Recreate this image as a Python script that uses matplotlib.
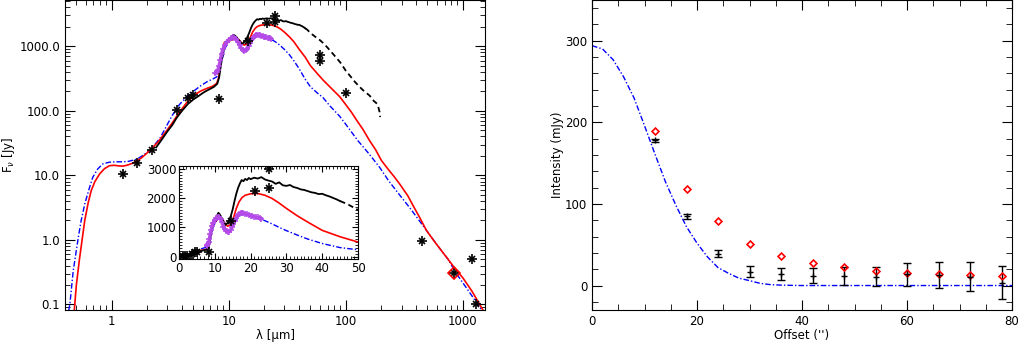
import matplotlib
matplotlib.use("Agg")
import matplotlib.pyplot as plt
from matplotlib.ticker import MultipleLocator, FuncFormatter, LogLocator, NullFormatter

plt.rcParams['font.family'] = ['DejaVu Sans']
plt.rcParams['font.size'] = 8.5

# ---- SED photometry (micron, Jy)
phot_wave = [1.25, 1.65, 2.2, 3.6, 4.5, 5.0, 8.3, 14.5, 21.3, 25.0, 25.0, 60.0, 60.0, 100.0, 450.0, 850.0, 1200.0, 1300.0]
phot_flux = [10.5, 15.8, 24.5, 104, 155, 176, 150, 1220, 2250, 2990, 2340, 740, 580, 190, 0.97, 0.31, 0.50, 0.10]

# ---- spectrum, short part (solid) and long part (broken)
spec_wave = [2.4, 2.6, 2.8, 3.0, 3.3, 3.6, 4.0, 4.5, 5.0, 5.5, 6.0, 6.5, 7.0, 7.5, 8.0, 8.3, 8.6, 9.0, 9.3, 9.7,
             10.2, 10.7, 11.0, 11.3, 11.7, 12.0, 12.5, 13.0, 13.5, 14.0, 14.5, 15.0, 15.5, 16.0, 16.5, 17.0,
             17.5, 18.0, 18.5, 19.0, 19.5, 20.0, 21.0, 22.0, 23.0, 24.0, 25.0, 26.0, 27.0, 28.0, 29.0, 30.0,
             31.0, 32.0, 33.0, 34.0, 35.0, 36.0, 37.0, 38.0, 39.0, 40.0, 41.0, 42.0, 43.0, 44.0, 45.0]
spec_flux = [27, 33, 40, 48, 60, 78, 100, 128, 150, 168, 188, 205, 220, 235, 262, 330, 520, 820, 1000, 1150,
             1300, 1420, 1500, 1460, 1380, 1290, 1190, 1090, 1140, 1250, 1400, 1620, 1900, 2150, 2350, 2500,
             2620, 2580, 2660, 2620, 2690, 2650, 2700, 2670, 2720, 2640, 2600, 2570, 2490, 2540, 2440, 2420,
             2450, 2380, 2350, 2300, 2280, 2240, 2200, 2180, 2140, 2150, 2100, 2060, 2010, 1960, 1900]
spec2_wave = [45, 47, 50, 55, 60, 65, 70, 80, 90, 100, 110, 120, 130, 140, 150, 160, 170, 175, 180, 185, 190, 195, 197]
spec2_flux = [1900, 1800, 1600, 1400, 1250, 1100, 950, 720, 560, 420, 340, 280, 240, 210, 190, 172, 150, 140,
              135, 128, 115, 95, 80]

# ---- second spectrum (purple crosses)
mag_wave = [7.7, 7.9, 8.1, 8.3, 8.5, 8.7, 9.0, 9.3, 9.6, 10.0, 10.4, 10.8, 11.2, 11.6, 12.0, 12.4, 12.8, 13.2,
            13.6, 14.0, 14.4, 14.8, 15.2, 15.6, 16.0, 16.4, 16.8, 17.2, 17.6, 18.0, 18.5, 19.0, 19.5, 20.0,
            20.5, 21.0, 21.5, 22.0, 22.5, 23.0]
mag_flux = [380, 400, 430, 500, 620, 760, 920, 1060, 1160, 1260, 1330, 1370, 1360, 1300, 1170, 1030, 930, 870,
            845, 860, 910, 1000, 1110, 1230, 1330, 1410, 1460, 1500, 1510, 1490, 1470, 1450, 1430, 1400,
            1390, 1370, 1350, 1340, 1320, 1300]

# ---- model SEDs
red_wave = [0.48, 0.5, 0.53, 0.56, 0.59, 0.63, 0.67, 0.72, 0.79, 0.87, 0.96, 1.05, 1.15, 1.25, 1.35, 1.5,
            1.65, 1.8, 2.0, 2.2, 2.5, 2.9, 3.3, 3.8, 4.4, 5.0, 5.7, 6.5, 7.3, 7.9, 8.2, 8.5, 8.8, 9.2, 9.7,
            10.2, 10.8, 11.3, 11.8, 12.4, 13.0, 13.6, 14.2, 14.8, 15.4, 16.0, 16.8, 17.6, 18.5, 20.0, 22.0,
            24.0, 26.0, 28.0, 30.0, 33.0, 36.0, 40.0, 45.0, 50.0, 57, 64, 75, 89, 100, 112, 125, 140, 160,
            180, 202, 230, 260, 290, 340, 380, 430, 490, 560, 650, 750, 880, 1000, 1200, 1500]
red_flux = [0.08, 0.2, 0.48, 1.0, 2.0, 3.7, 5.8, 8.0, 10.5, 12.7, 14.1, 14.3, 14.0, 13.9, 14.3, 15.3,
            16.8, 18.6, 22, 26, 33, 47, 65, 95, 135, 170, 200, 222, 240, 265, 320, 480, 800, 1150, 1200,
            1210, 1270, 1340, 1330, 1230, 1100, 1040, 1080, 1200, 1400, 1650, 1880, 2020, 2100, 2150, 2160,
            2100, 1990, 1830, 1650, 1400, 1180, 900, 680, 500, 380, 300, 225, 165, 125, 95, 70, 52, 34.5,
            25, 17, 12.5, 9.5, 7.3, 4.8, 3.3, 2.2, 1.4, 1.0, 0.7, 0.5, 0.34, 0.26, 0.16, 0.08]
blue_wave = [0.43, 0.44, 0.47, 0.52, 0.55, 0.59, 0.64, 0.69, 0.76, 0.84, 0.96, 1.1, 1.25, 1.4, 1.65, 1.9,
             2.2, 2.6, 2.9, 3.3, 3.8, 4.4, 5.0, 5.7, 6.5, 7.3, 7.9, 8.3, 8.7, 9.1, 9.5, 10.0, 10.6, 11.2,
             11.8, 12.4, 13.0, 13.6, 14.2, 14.8, 15.4, 16.0, 16.8, 17.6, 18.5, 20, 22, 24, 26, 28, 30, 33,
             36, 40, 45, 50, 57, 64, 73, 89, 100, 112, 127, 145, 160, 180, 195, 230, 270, 350, 458, 600,
             750, 883, 1100, 1300, 1500]
blue_flux = [0.08, 0.1, 0.33, 1.1, 2.0, 3.6, 6.0, 9.3, 12.5, 15, 16, 16.2, 16.2, 16.5, 17.8, 21,
             26, 38, 55, 85, 125, 165, 200, 240, 280, 310, 335, 380, 560, 820, 1000, 1130, 1250, 1310,
             1240, 1080, 920, 850, 870, 960, 1100, 1250, 1380, 1440, 1440, 1390, 1310, 1230, 1120, 1000, 890, 740,
             600, 450, 310, 235, 190, 160, 120, 82, 62, 47, 34.5, 26, 21, 16, 13.3, 8.5, 5.8, 3.2, 1.66, 0.85,
             0.5, 0.3, 0.17, 0.11, 0.075]

# ---- radial profile (arcsec, mJy)
prof_off = [0, 2, 4, 6, 8, 10, 12, 14, 16, 18, 20, 22, 24, 26, 28, 30, 32, 34, 36, 38, 40, 50, 60, 70, 80]
prof_val = [294, 290, 277, 256, 230, 196, 161, 127, 98, 72, 52, 35, 22, 15, 9, 6, 2.7, 1.1, 0.5, 0.2, 0, 0, 0, 0, 0]
obs_off = [12, 18, 24, 30, 36, 42, 48, 54, 60, 66, 72, 78]
obs_val = [178, 85, 39, 17, 14, 12, 12, 11, 14, 13, 11, 3.5]
obs_err = [2, 3, 4, 6.5, 7.5, 9, 11, 12, 14, 16, 18, 20]
mod_val = [189, 118, 78.5, 50.7, 35.6, 27.4, 22.4, 18.3, 15.6, 14.3, 13.0, 11.4]

purple = '#b44be8'
dashdot = (0, (4, 1.5, 1, 1.5))


def asterisks(a, x, y):
    # IDL-style asterisk: plus on top of a cross
    a.plot(x, y, marker='+', ms=6.5, mew=1.2, color='k', ls='none')
    a.plot(x, y, marker='x', ms=5, mew=1.2, color='k', ls='none')


fig = plt.figure(figsize=(10.19, 3.45), dpi=100)
W, H = 1019.0, 345.0

# ================= left: SED =================
ax = fig.add_axes([65 / W, 1 - 310 / H, 420 / W, 310 / H])
ax.plot(blue_wave, blue_flux, color='blue', lw=1, ls=dashdot)
ax.plot(red_wave, red_flux, color='red', lw=1.2)
ax.plot(spec_wave, spec_flux, color='k', lw=1.3)
ax.plot(spec2_wave, spec2_flux, color='k', lw=1.3, ls=(0, (3, 2)))
ax.plot(mag_wave, mag_flux, color=purple, lw=2.5, marker='+', ms=5, mew=1.2, alpha=0.9)
asterisks(ax, phot_wave, phot_flux)
ax.plot([850], [0.31], marker='D', ms=6, mfc='none', mec='red', mew=1.2, ls='none')
ax.set_xscale('log')
ax.set_yscale('log')
ax.set_xlim(0.4, 1550)
ax.set_ylim(0.082, 5200)
ax.xaxis.set_major_formatter(FuncFormatter(lambda v, p: '%d' % round(v)))
ax.yaxis.set_major_formatter(FuncFormatter(lambda v, p: '%.1f' % v))
ax.xaxis.set_minor_formatter(NullFormatter())
ax.yaxis.set_minor_formatter(NullFormatter())
ax.set_yticks([0.1, 1, 10, 100, 1000])
ax.set_xticks([1, 10, 100, 1000])
ax.yaxis.set_minor_locator(LogLocator(base=10, subs=range(2, 10), numticks=20))
ax.xaxis.set_minor_locator(LogLocator(base=10, subs=range(2, 10), numticks=20))
ax.tick_params(which='both', direction='in', top=True, right=True)
ax.tick_params(which='major', length=7)
ax.tick_params(which='minor', length=3.5)
ax.set_xlabel('λ [μm]', labelpad=1)
ax.set_ylabel(r'F$_{\nu}$ [Jy]', labelpad=2)

# inset, linear
axi = fig.add_axes([179 / W, 1 - 259 / H, 179 / W, 93 / H])
axi.plot(blue_wave, blue_flux, color='blue', lw=1, ls=dashdot)
axi.plot(red_wave, red_flux, color='red', lw=1.2)
axi.plot(spec_wave, spec_flux, color='k', lw=1.3)
axi.plot(spec2_wave, spec2_flux, color='k', lw=1.3, ls=(0, (3, 2)))
axi.plot(mag_wave, mag_flux, color=purple, lw=2.5, marker='+', ms=5, mew=1.2, alpha=0.9)
asterisks(axi, phot_wave, phot_flux)
axi.set_xlim(0, 50)
axi.set_ylim(-80, 3100)
axi.set_xticks([0, 10, 20, 30, 40, 50])
axi.set_yticks([0, 1000, 2000, 3000])
axi.xaxis.set_minor_locator(MultipleLocator(1))
axi.yaxis.set_minor_locator(MultipleLocator(100))
axi.tick_params(which='both', direction='in', top=True, right=True, pad=2)
axi.tick_params(which='major', length=4)
axi.tick_params(which='minor', length=2)

# ================= right: profile =================
ax2 = fig.add_axes([592 / W, 1 - 310 / H, 420 / W, 310 / H])
ax2.plot(prof_off, prof_val, color='blue', lw=1, ls=dashdot)
ax2.errorbar(obs_off, obs_val, yerr=obs_err, fmt='+', color='k', ms=5, mew=1,
             elinewidth=1, capsize=3, capthick=1)
ax2.plot(obs_off, mod_val, marker='D', ms=3.5, mfc='none', mec='red', mew=1.2, ls='none')
ax2.set_xlim(0, 80)
ax2.set_ylim(-30, 350)
ax2.set_xticks([0, 20, 40, 60, 80])
ax2.set_yticks([0, 100, 200, 300])
ax2.xaxis.set_minor_locator(MultipleLocator(5))
ax2.yaxis.set_minor_locator(MultipleLocator(20))
ax2.tick_params(which='both', direction='in', top=True, right=True)
ax2.tick_params(which='major', length=7)
ax2.tick_params(which='minor', length=4)
ax2.set_xlabel("Offset ('')", labelpad=1)
ax2.set_ylabel('Intensity (mJy)', labelpad=1)

fig.savefig('out.png', dpi=100)
